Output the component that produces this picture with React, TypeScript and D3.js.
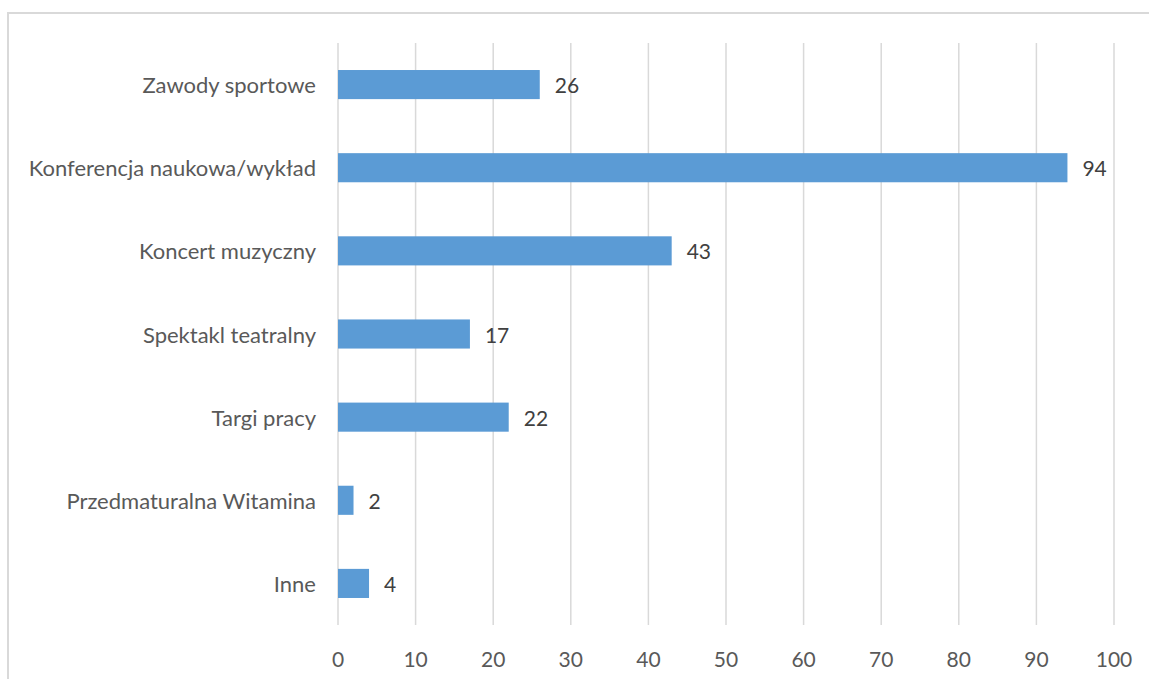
import React from "react";
import * as d3 from "d3";

const categories = [
  "Zawody sportowe",
  "Konferencja naukowa/wykład",
  "Koncert muzyczny",
  "Spektakl teatralny",
  "Targi pracy",
  "Przedmaturalna Witamina",
  "Inne",
];
const values = [26, 94, 43, 17, 22, 2, 4];
const xTicks = [0, 10, 20, 30, 40, 50, 60, 70, 80, 90, 100];

const W = 1149;
const H = 679;
const left = 338;
const right = 1114;
const top = 43;
const bottom = 625;
const FONT = "Lato, 'Open Sans', sans-serif";
const TEXT = "#595959";

export default function App() {
  const x = d3.scaleLinear().domain([0, 100]).range([left, right]);
  const y = d3
    .scaleBand<string>()
    .domain(categories)
    .range([top, bottom])
    .paddingInner(0.65)
    .paddingOuter(0.325);

  return (
    <svg
      width={W}
      height={H}
      style={{ position: "absolute", left: 0, top: 0, background: "#fff" }}
    >
      <rect x={8} y={13} width={W + 20} height={H + 20} fill="#fff" stroke="#d9d9d9" strokeWidth={2} />
      {xTicks.map((t) => (
        <g key={t}>
          <line x1={x(t)} x2={x(t)} y1={top} y2={bottom} stroke="#d9d9d9" strokeWidth={1.5} />
          <text
            x={x(t)}
            y={658}
            textAnchor="middle"
            dominantBaseline="central"
            fontFamily={FONT}
            fontSize={21}
            fill={TEXT}
          >
            {t}
          </text>
        </g>
      ))}
      {categories.map((c, i) => {
        const yc = (y(c) as number) + y.bandwidth() / 2;
        return (
          <g key={c}>
            <rect
              x={x(0)}
              y={y(c)}
              width={x(values[i]) - x(0)}
              height={y.bandwidth()}
              fill="#5B9BD5"
            />
            <text
              x={left - 22}
              y={yc}
              textAnchor="end"
              dominantBaseline="central"
              fontFamily={FONT}
              fontSize={22}
              fill={TEXT}
            >
              {c}
            </text>
            <text
              x={x(values[i]) + 15}
              y={yc}
              dominantBaseline="central"
              fontFamily={FONT}
              fontSize={21}
              fill="#404040"
            >
              {values[i]}
            </text>
          </g>
        );
      })}
    </svg>
  );
}
